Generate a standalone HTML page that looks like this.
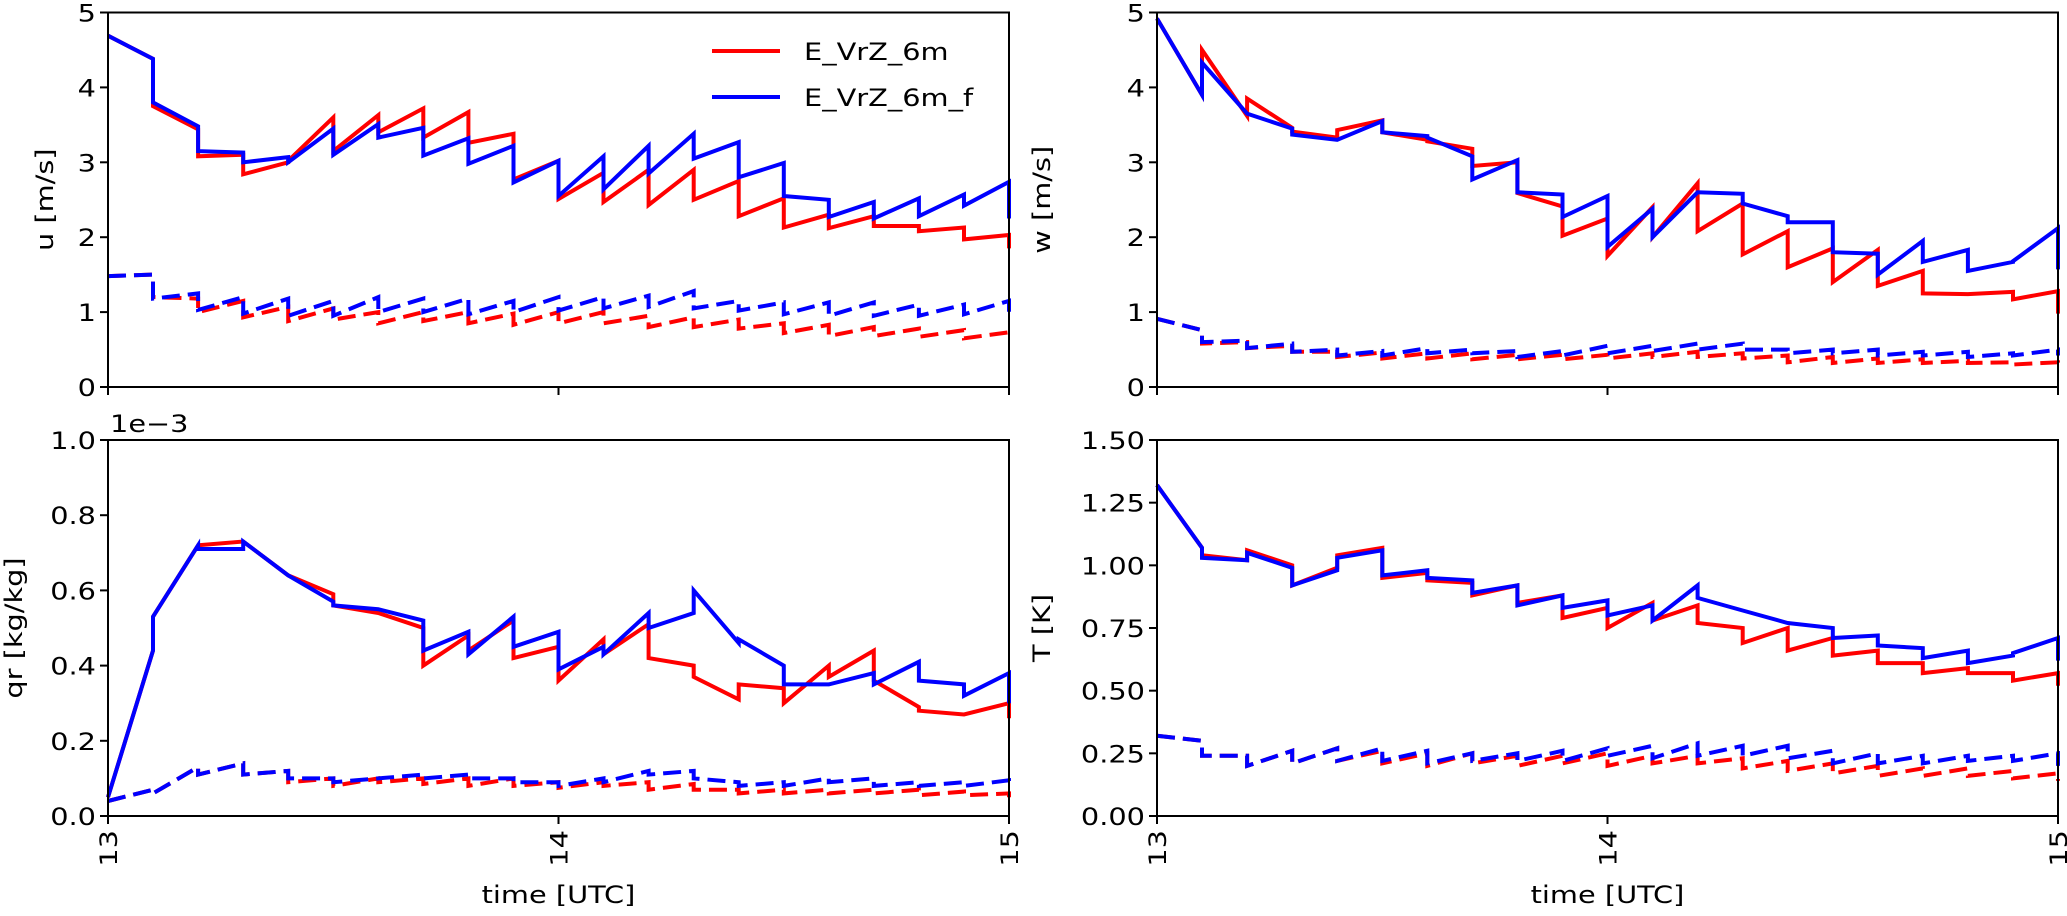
<!DOCTYPE html>
<html><head><meta charset="utf-8"><style>
html,body{margin:0;padding:0;background:#fff;}
svg text{font-family:"DejaVu Sans","Liberation Sans",sans-serif;fill:#000;}
</style></head><body>
<svg id="fig" width="2067" height="911" viewBox="0 0 2067 911" xmlns="http://www.w3.org/2000/svg"></svg>
<script>
// time segments 13.0 .. 15.0 every 0.1 h
const segTimes = [13.0,13.1,13.2,13.3,13.4,13.5,13.6,13.7,13.8,13.9,14.0,14.1,14.2,14.3,14.4,14.5,14.6,14.7,14.8,14.9,15.0];
const xTicks = [13,14,15];
const xTickLabels = ["13","14","15"];
const seriesNames = ["E_VrZ_6m","E_VrZ_6m_f"];

// u panel
const uRedStart  = [4.69,3.75,3.08,2.84,3.02,3.15,3.40,3.33,3.26,2.77,2.51,2.47,2.43,2.50,2.28,2.13,2.12,2.15,2.08,1.97];
const uRedEnd    = [4.38,3.44,3.10,3.00,3.60,3.63,3.72,3.67,3.38,3.02,2.86,2.90,2.90,2.75,2.52,2.30,2.28,2.15,2.13,2.03];
const uRedFinal = 1.85;
const uBlueStart = [4.69,3.80,3.15,3.00,3.00,3.10,3.33,3.09,2.98,2.73,2.55,2.64,2.85,3.05,2.80,2.55,2.27,2.25,2.28,2.42];
const uBlueEnd   = [4.38,3.48,3.13,3.07,3.45,3.51,3.46,3.32,3.22,3.02,3.08,3.22,3.38,3.27,2.99,2.50,2.47,2.52,2.57,2.74];
const uBlueFinal = 2.25;
const uRedDStart = [1.48,1.20,1.00,0.93,0.88,0.90,0.85,0.88,0.85,0.83,0.85,0.85,0.80,0.80,0.78,0.72,0.68,0.68,0.67,0.65];
const uRedDEnd   = [1.50,1.18,1.15,1.07,1.05,1.00,1.00,1.00,0.98,1.00,1.00,0.95,0.93,0.90,0.85,0.83,0.80,0.78,0.76,0.73];
const uRedDFinal = 0.65;
const uBlueDStart= [1.48,1.18,1.03,0.98,0.95,0.95,1.00,1.00,0.97,1.00,1.02,1.05,1.07,1.05,1.02,0.97,0.95,0.95,0.95,0.97];
const uBlueDEnd  = [1.50,1.25,1.20,1.18,1.15,1.20,1.18,1.18,1.15,1.20,1.20,1.22,1.28,1.15,1.13,1.13,1.13,1.10,1.10,1.15];
const uBlueDFinal = 0.95;
const uTicks = [0,1,2,3,4,5];
const uTickLabels = ["0","1","2","3","4","5"];

// w panel
const wRedStart  = [4.92,4.50,3.85,3.41,3.43,3.40,3.28,2.95,2.59,2.02,1.75,2.00,2.08,1.77,1.60,1.40,1.35,1.25,1.24,1.17];
const wRedEnd    = [3.90,3.62,3.46,3.33,3.56,3.30,3.18,3.00,2.41,2.25,2.40,2.72,2.45,2.08,1.85,1.83,1.55,1.24,1.27,1.28];
const wRedFinal = 0.98;
const wBlueStart = [4.92,4.33,3.65,3.37,3.30,3.40,3.33,2.77,2.60,2.27,1.87,2.00,2.60,2.45,2.20,1.80,1.50,1.67,1.55,1.68];
const wBlueEnd   = [3.90,3.65,3.45,3.30,3.55,3.35,3.08,3.03,2.57,2.55,2.38,2.60,2.58,2.28,2.20,1.78,1.95,1.83,1.67,2.12];
const wBlueFinal = 1.57;
const wRedDStart = [0.91,0.58,0.52,0.47,0.40,0.38,0.38,0.37,0.37,0.37,0.38,0.40,0.40,0.38,0.33,0.32,0.32,0.32,0.32,0.30];
const wRedDEnd   = [0.76,0.60,0.55,0.47,0.46,0.45,0.45,0.43,0.43,0.43,0.45,0.47,0.45,0.42,0.40,0.38,0.37,0.35,0.33,0.33];
const wRedDFinal = 0.30;
const wBlueDStart= [0.91,0.60,0.52,0.47,0.42,0.42,0.45,0.45,0.40,0.42,0.45,0.48,0.50,0.50,0.45,0.45,0.42,0.42,0.40,0.42];
const wBlueDEnd  = [0.76,0.62,0.58,0.50,0.48,0.52,0.50,0.48,0.48,0.55,0.55,0.58,0.58,0.50,0.50,0.50,0.47,0.47,0.45,0.50];
const wBlueDFinal = 0.42;
const wTicks = [0,1,2,3,4,5];
const wTickLabels = ["0","1","2","3","4","5"];

// qr panel (x 1e-3)
const qRedStart  = [0.05,0.53,0.72,0.73,0.64,0.56,0.54,0.40,0.44,0.42,0.36,0.43,0.42,0.37,0.35,0.30,0.37,0.36,0.28,0.27];
const qRedEnd    = [0.44,0.72,0.73,0.64,0.59,0.54,0.50,0.48,0.52,0.45,0.47,0.51,0.40,0.31,0.34,0.40,0.44,0.29,0.27,0.30];
const qRedFinal = 0.26;
const qBlueStart = [0.05,0.53,0.71,0.73,0.64,0.56,0.55,0.44,0.43,0.45,0.39,0.43,0.50,0.60,0.47,0.35,0.35,0.35,0.36,0.32];
const qBlueEnd   = [0.44,0.72,0.71,0.64,0.57,0.55,0.52,0.49,0.53,0.49,0.45,0.54,0.54,0.46,0.40,0.35,0.38,0.41,0.35,0.38];
const qBlueFinal = 0.30;
const qRedDStart = [0.04,0.06,0.11,0.11,0.09,0.08,0.09,0.085,0.08,0.08,0.075,0.08,0.07,0.07,0.06,0.06,0.06,0.06,0.055,0.055];
const qRedDEnd   = [0.07,0.13,0.14,0.12,0.10,0.10,0.10,0.10,0.10,0.09,0.09,0.09,0.085,0.07,0.07,0.07,0.07,0.07,0.065,0.06];
const qRedDFinal = 0.05;
const qBlueDStart= [0.04,0.06,0.11,0.11,0.10,0.09,0.10,0.10,0.10,0.09,0.08,0.09,0.11,0.10,0.08,0.08,0.09,0.08,0.08,0.08];
const qBlueDEnd  = [0.07,0.13,0.14,0.12,0.10,0.10,0.11,0.11,0.10,0.09,0.10,0.12,0.12,0.09,0.09,0.10,0.10,0.09,0.09,0.095];
const qBlueDFinal = 0.08;
const qTicks = [0,0.2,0.4,0.6,0.8,1.0];
const qTickLabels = ["0.0","0.2","0.4","0.6","0.8","1.0"];

// T panel
const tRedStart  = [1.32,1.04,1.06,0.92,1.04,0.95,0.94,0.88,0.85,0.79,0.75,0.78,0.77,0.69,0.66,0.64,0.61,0.57,0.57,0.54];
const tRedEnd    = [1.07,1.02,1.00,0.99,1.07,0.97,0.93,0.92,0.88,0.83,0.85,0.84,0.75,0.75,0.71,0.66,0.61,0.59,0.57,0.57];
const tRedFinal = 0.52;
const tBlueStart = [1.32,1.03,1.05,0.92,1.03,0.96,0.95,0.89,0.84,0.83,0.80,0.78,0.87,0.82,0.77,0.71,0.68,0.63,0.61,0.65];
const tBlueEnd   = [1.07,1.02,0.99,0.98,1.06,0.98,0.94,0.92,0.88,0.86,0.84,0.92,0.82,0.77,0.75,0.72,0.67,0.66,0.64,0.71];
const tBlueFinal = 0.62;
const tRedDStart = [0.32,0.24,0.20,0.21,0.22,0.21,0.20,0.21,0.20,0.21,0.20,0.21,0.21,0.19,0.18,0.17,0.16,0.16,0.16,0.15];
const tRedDEnd   = [0.30,0.24,0.26,0.27,0.26,0.25,0.25,0.24,0.24,0.25,0.24,0.24,0.23,0.22,0.21,0.20,0.19,0.19,0.18,0.17];
const tRedDFinal = 0.14;
const tBlueDStart= [0.32,0.24,0.20,0.21,0.22,0.22,0.21,0.22,0.22,0.22,0.24,0.23,0.24,0.24,0.23,0.21,0.21,0.21,0.22,0.22];
const tBlueDEnd  = [0.30,0.24,0.26,0.27,0.27,0.26,0.25,0.25,0.26,0.27,0.28,0.29,0.28,0.28,0.26,0.25,0.24,0.24,0.24,0.25];
const tBlueDFinal = 0.20;
const tTicks = [0,0.25,0.5,0.75,1.0,1.25,1.5];
const tTickLabels = ["0.00","0.25","0.50","0.75","1.00","1.25","1.50"];

const NS = "http://www.w3.org/2000/svg";
const svg = document.getElementById("fig");
const SX = 1.2; // horizontal text stretch of the reference

function txt(parent, x, y, s, size, anchor, rot) {
  const t = document.createElementNS(NS, "text");
  t.setAttribute("font-size", size);
  t.setAttribute("text-anchor", anchor);
  t.setAttribute("transform", `translate(${x},${y}) scale(${SX},1)` + (rot ? ` rotate(${rot})` : ""));
  t.textContent = s;
  parent.appendChild(t);
  return t;
}

function panel(cfg) {
  const g = document.createElementNS(NS, "g");
  
  
  svg.appendChild(g);
  const {L, R, T, B, ymax} = cfg;
  const xs = v => L + (v - 13) / 2 * (R - L);
  const ys = v => B - v / ymax * (B - T);

  function series(start, end, fin, color, dashed, nm) {
    let d = "";
    for (let i = 0; i < start.length; i++) {
      d += (i === 0 ? "M" : "L") + xs(segTimes[i]).toFixed(1) + "," + ys(start[i]).toFixed(1);
      d += "L" + xs(segTimes[i + 1]).toFixed(1) + "," + ys(end[i]).toFixed(1);
    }
    d += "L" + xs(segTimes[segTimes.length - 1]).toFixed(1) + "," + ys(fin).toFixed(1);
    const p = document.createElementNS(NS, "path");
    p.setAttribute("d", d);
    p.setAttribute("fill", "none");
    p.setAttribute("stroke", color);
    p.setAttribute("stroke-width", "4");
    p.setAttribute("stroke-linejoin", "miter");
    if (dashed) p.setAttribute("stroke-dasharray", "18,8");
    
    
    g.appendChild(p);
  }
  const S = cfg.s;
  series(S[4], S[5], S[6], "#ff0000", true, cfg.name + "-red-dashed");
  series(S[12], S[13], S[14], "#0000ff", true, cfg.name + "-blue-dashed");
  series(S[0], S[1], S[2], "#ff0000", false, cfg.name + "-red-solid");
  series(S[8], S[9], S[10], "#0000ff", false, cfg.name + "-blue-solid");

  const fr = document.createElementNS(NS, "rect");
  fr.setAttribute("x", L); fr.setAttribute("y", T);
  fr.setAttribute("width", R - L); fr.setAttribute("height", B - T);
  fr.setAttribute("fill", "none"); fr.setAttribute("stroke", "#000"); fr.setAttribute("stroke-width", "2");
  
  
  g.appendChild(fr);

  cfg.yt.forEach((v, i) => {
    const y = ys(v);
    const l = document.createElementNS(NS, "line");
    l.setAttribute("x1", L - 8); l.setAttribute("x2", L); l.setAttribute("y1", y); l.setAttribute("y2", y);
    l.setAttribute("stroke", "#000"); l.setAttribute("stroke-width", "2");
    
    
    g.appendChild(l);
    const t = txt(g, L - 12, y + 9, cfg.ytl[i], 24, "end");
    
    
  });
  xTicks.forEach((v, i) => {
    const x = xs(v);
    const l = document.createElementNS(NS, "line");
    l.setAttribute("x1", x); l.setAttribute("x2", x); l.setAttribute("y1", B); l.setAttribute("y2", B + 8);
    l.setAttribute("stroke", "#000"); l.setAttribute("stroke-width", "2");
    
    
    g.appendChild(l);
    if (cfg.bottom) {
      const t = document.createElementNS(NS, "text");
      t.setAttribute("font-size", 24);
      t.setAttribute("text-anchor", "end");
      t.setAttribute("transform", `translate(${x + 9},${B + 14}) scale(1,${SX}) rotate(-90)`);
      t.textContent = xTickLabels[i];
      
      
      g.appendChild(t);
    }
  });
  const yl = document.createElementNS(NS, "text");
  yl.setAttribute("font-size", 24);
  yl.setAttribute("text-anchor", "middle");
  yl.setAttribute("transform", `translate(${cfg.ylx},${(T + B) / 2}) scale(1,${SX}) rotate(-90)`);
  yl.textContent = cfg.ylabel;
  
  
  g.appendChild(yl);
  if (cfg.bottom) {
    const xl = txt(g, (L + R) / 2, 903, "time [UTC]", 24, "middle");
    
    
  }
}

panel({name:"u-panel", L:108, R:1009, T:12.5, B:387, ymax:5, yt:uTicks, ytl:uTickLabels, ylabel:"u [m/s]", ylx:53, bottom:false,
  s:[uRedStart,uRedEnd,uRedFinal,0,uRedDStart,uRedDEnd,uRedDFinal,0,uBlueStart,uBlueEnd,uBlueFinal,0,uBlueDStart,uBlueDEnd,uBlueDFinal]});
panel({name:"w-panel", L:1157, R:2058, T:12.5, B:387, ymax:5, yt:wTicks, ytl:wTickLabels, ylabel:"w [m/s]", ylx:1050, bottom:false,
  s:[wRedStart,wRedEnd,wRedFinal,0,wRedDStart,wRedDEnd,wRedDFinal,0,wBlueStart,wBlueEnd,wBlueFinal,0,wBlueDStart,wBlueDEnd,wBlueDFinal]});
panel({name:"qr-panel", L:108, R:1009, T:440, B:816, ymax:1.0, yt:qTicks, ytl:qTickLabels, ylabel:"qr [kg/kg]", ylx:22, bottom:true,
  s:[qRedStart,qRedEnd,qRedFinal,0,qRedDStart,qRedDEnd,qRedDFinal,0,qBlueStart,qBlueEnd,qBlueFinal,0,qBlueDStart,qBlueDEnd,qBlueDFinal]});
panel({name:"t-panel", L:1157, R:2058, T:440, B:816, ymax:1.5, yt:tTicks, ytl:tTickLabels, ylabel:"T [K]", ylx:1050, bottom:true,
  s:[tRedStart,tRedEnd,tRedFinal,0,tRedDStart,tRedDEnd,tRedDFinal,0,tBlueStart,tBlueEnd,tBlueFinal,0,tBlueDStart,tBlueDEnd,tBlueDFinal]});

const off = txt(svg, 110, 432, "1e\u22123", 24, "start");



// legend
const leg = document.createElementNS(NS, "g");


svg.appendChild(leg);
[["#ff0000", 51], ["#0000ff", 97]].forEach((c, i) => {
  const l = document.createElementNS(NS, "line");
  l.setAttribute("x1", 712); l.setAttribute("x2", 780); l.setAttribute("y1", c[1]); l.setAttribute("y2", c[1]);
  l.setAttribute("stroke", c[0]); l.setAttribute("stroke-width", "4");
  
  
  leg.appendChild(l);
  const t = txt(leg, 804, c[1] + 9, seriesNames[i], 24, "start");
  
  
});
</script>
</body></html>
